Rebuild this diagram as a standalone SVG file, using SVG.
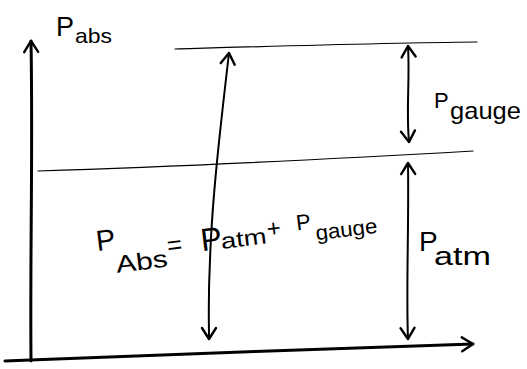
<svg xmlns="http://www.w3.org/2000/svg" width="527" height="369" viewBox="0 0 527 369">
<style>
.ln{fill:none;stroke:#000;stroke-linecap:round;stroke-linejoin:round}
.t{font-family:"Liberation Sans",Arial,sans-serif;fill:#000}
</style>
<defs>
<marker id="ah" markerUnits="userSpaceOnUse" markerWidth="30" markerHeight="30" viewBox="-15 -15 30 30" refX="0" refY="0" orient="auto-start-reverse">
<path d="M-11,-7 L0,0 L-11,7" fill="none" stroke="#000" stroke-width="2.4" stroke-linecap="round" stroke-linejoin="round"/>
</marker>
</defs>
<rect width="527" height="369" fill="#fff"/>
<g id="connectors">
<path class="ln" stroke-width="3" d="M31,361 C30,250 33,150 31,41" marker-end="url(#ah)"/>
<path class="ln" stroke-width="3" d="M5,361 L30,360 C150,355 350,348 473,344" marker-end="url(#ah)"/>
<path class="ln" stroke-width="1.2" d="M175,49 C280,46 380,43 477,42"/>
<path class="ln" stroke-width="1.2" d="M38,171 C200,166 350,158 473,151"/>
<path class="ln" stroke-width="2" d="M229,53 C220,130 212,200 210,260 C208,300 209,320 209,339" marker-start="url(#ah)" marker-end="url(#ah)"/>
<path class="ln" stroke-width="2" d="M408,46 C410,80 406,110 409,142" marker-start="url(#ah)" marker-end="url(#ah)"/>
<path class="ln" stroke-width="2" d="M408,163 C409,230 406,290 408,339" marker-start="url(#ah)" marker-end="url(#ah)"/>
</g>
<g id="label-pabs">
<text class="t" x="56" y="36" font-size="27">P</text>
<text class="t" x="75" y="43" font-size="21" textLength="37" lengthAdjust="spacingAndGlyphs">abs</text>
</g>
<g id="label-pgauge">
<text class="t" x="434" y="108" font-size="22">P</text>
<text class="t" x="450" y="119" font-size="24" textLength="71" lengthAdjust="spacingAndGlyphs">gauge</text>
</g>
<g id="label-patm">
<text class="t" x="419" y="251" font-size="28">P</text>
<text class="t" x="434" y="265" font-size="25" textLength="57" lengthAdjust="spacingAndGlyphs">atm</text>
</g>
<g id="equation" transform="rotate(-7 98 250)">
<text class="t" x="97" y="251" font-size="29">P</text>
<text class="t" x="114" y="275" font-size="24" textLength="52" lengthAdjust="spacingAndGlyphs">Abs</text>
<text class="t" x="167" y="263" font-size="26">=</text>
<text class="t" x="201" y="264" font-size="32">P</text>
<text class="t" x="221" y="264" font-size="22" textLength="46" lengthAdjust="spacingAndGlyphs">atm</text>
<text class="t" x="268" y="258" font-size="24">+</text>
<text class="t" x="298" y="255" font-size="22">P</text>
<text class="t" x="316" y="267" font-size="21" textLength="62" lengthAdjust="spacingAndGlyphs">gauge</text>
</g>
</svg>
